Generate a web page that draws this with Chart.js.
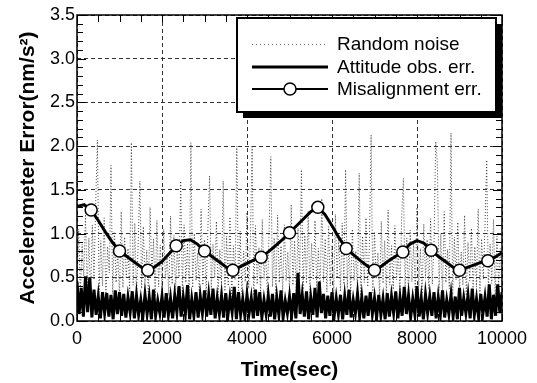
<!DOCTYPE html>
<html>
<head>
<meta charset="utf-8">
<script src="https://cdn.jsdelivr.net/npm/chart.js@4.4.1/dist/chart.umd.min.js"></script>
<style>
  html, body { margin: 0; padding: 0; background: #fff; }
  #wrap { width: 537px; height: 383px; }
</style>
</head>
<body>
<div id="wrap"><canvas id="c" width="537" height="383"></canvas></div>
<script>
// ---- data ----
const seriesNames = ["Random noise", "Attitude obs. err.", "Misalignment err."];
const xTickLabels = [0, 2000, 4000, 6000, 8000, 10000];
const yTickLabels = ["0.0","0.5","1.0","1.5","2.0","2.5","3.0","3.5"];
const xLabel = "Time(sec)";
const yLabel = "Accelerometer Error(nm/s\u00B2)";

// Random noise, sampled every 40 s (0..10000)
const noiseStep = 40;
const noiseValues = [
 0.42,1.05,0.30,0.88,0.51,1.22,0.36,0.95,0.28,1.10,
 0.47,1.35,2.07,0.33,0.92,0.40,1.18,0.29,0.85,0.55,
 1.78,0.31,1.02,0.44,0.79,0.27,1.25,0.38,0.96,0.50,
 0.83,0.34,2.04,0.41,1.12,0.26,0.90,1.60,0.37,1.08,
 0.45,0.81,0.30,1.30,0.52,0.94,0.28,1.15,0.39,0.87,
 0.33,1.05,0.48,0.76,0.29,1.20,0.42,0.98,0.35,0.84,
 0.50,1.60,0.31,1.10,0.44,0.89,0.27,2.04,0.38,1.00,
 0.46,0.78,0.32,1.28,0.41,0.93,0.29,1.07,1.66,0.36,
 0.88,0.49,1.14,0.30,0.82,0.43,1.60,0.34,0.97,0.40,
 1.19,0.28,0.86,0.47,2.00,0.35,1.03,0.31,0.80,0.45,
 1.24,0.37,0.91,2.01,0.29,1.09,0.42,0.84,0.33,1.16,
 0.48,0.77,0.30,1.02,1.88,0.39,0.95,0.27,1.21,0.44,
 0.86,0.32,1.10,0.46,0.79,0.35,1.33,0.41,0.92,0.29,
 1.06,0.50,1.73,0.36,0.98,0.43,1.26,0.31,0.89,0.47,
 1.15,0.38,0.83,0.30,1.40,0.45,0.94,0.33,1.08,0.40,
 0.87,0.28,1.22,0.49,0.96,0.34,1.12,0.42,1.73,0.37,
 0.90,0.31,1.05,0.46,0.80,0.35,1.69,0.29,0.97,0.44,
 1.18,0.39,0.85,2.13,0.32,1.01,0.48,0.78,0.30,1.14,
 0.43,0.92,0.27,1.27,0.41,0.86,0.36,1.09,0.47,0.81,
 0.33,1.20,1.63,0.38,0.95,0.29,1.04,0.45,0.88,0.34,
 1.30,0.40,0.83,0.31,1.11,0.49,0.93,0.36,1.17,0.42,
 0.87,2.05,1.80,0.35,1.00,0.28,1.25,0.44,0.82,0.37,
 2.15,0.30,0.96,0.47,1.13,0.33,0.79,0.41,1.21,0.29,
 0.90,0.46,1.06,0.34,0.85,0.39,1.28,0.31,0.94,0.48,
 1.10,1.84,0.36,0.88,0.43,1.16,0.28,0.97,0.40,0.83,
 0.35
];

// Attitude observation error, sampled every 50 s
const attitudeStep = 50;
const attitudeValues = [
 0.45,0.08,0.38,0.05,0.51,0.10,0.50,0.04,0.36,0.07,
 0.28,0.03,0.33,0.09,0.32,0.05,0.30,0.02,0.35,0.08,
 0.33,0.06,0.31,0.04,0.27,0.10,0.34,0.03,0.29,0.07,
 0.24,0.05,0.30,0.08,0.27,0.02,0.36,0.06,0.23,0.09,
 0.28,0.04,0.32,0.07,0.26,0.03,0.29,0.10,0.40,0.05,
 0.27,0.08,0.41,0.02,0.25,0.06,0.33,0.04,0.28,0.09,
 0.35,0.05,0.30,0.07,0.37,0.03,0.26,0.08,0.29,0.04,
 0.32,0.06,0.27,0.10,0.39,0.02,0.33,0.07,0.25,0.05,
 0.30,0.09,0.26,0.03,0.36,0.06,0.33,0.04,0.24,0.08,
 0.29,0.05,0.31,0.02,0.27,0.07,0.35,0.04,0.23,0.09,
 0.28,0.06,0.32,0.03,0.55,0.08,0.30,0.05,0.34,0.02,
 0.27,0.07,0.38,0.04,0.45,0.09,0.31,0.03,0.29,0.06,
 0.33,0.05,0.26,0.08,0.30,0.02,0.28,0.07,0.36,0.04,
 0.24,0.09,0.31,0.05,0.27,0.03,0.29,0.06,0.33,0.08,
 0.26,0.04,0.30,0.07,0.25,0.02,0.32,0.05,0.28,0.09,
 0.34,0.03,0.27,0.06,0.39,0.08,0.29,0.04,0.25,0.07,
 0.40,0.05,0.26,0.02,0.30,0.09,0.28,0.06,0.33,0.03,
 0.27,0.07,0.35,0.04,0.24,0.08,0.30,0.05,0.28,0.02,
 0.38,0.06,0.26,0.09,0.29,0.03,0.37,0.07,0.25,0.04,
 0.31,0.08,0.27,0.05,0.42,0.02,0.30,0.06,0.42,0.09,
 0.33
];

// Misalignment error, sampled every 10000/60 s; markers on every 4th sample from index 2
const misalignStep = 10000 / 60;
const misalignValues = [
 1.31,1.33,1.27,1.15,1.02,0.90,0.80,0.74,0.68,0.62,
 0.58,0.62,0.68,0.77,0.86,0.92,0.93,0.88,0.80,0.74,
 0.68,0.62,0.58,0.62,0.66,0.70,0.73,0.79,0.86,0.93,
 1.01,1.09,1.17,1.25,1.30,1.22,1.09,0.95,0.83,0.76,
 0.69,0.63,0.58,0.63,0.69,0.74,0.79,0.88,0.92,0.89,
 0.81,0.74,0.68,0.62,0.58,0.61,0.64,0.67,0.69,0.73,
 0.78
];
const markerEvery = 4, markerOffset = 2;

// ---- build ----
const toXY = (vals, step) => vals.map((v, i) => ({ x: i * step, y: v }));
const FONT = "'Liberation Sans', Arial, Helvetica, sans-serif";
Chart.defaults.font.family = FONT;
Chart.defaults.color = '#000';

const framePlugin = {
  id: 'frameTicksLegend',
  afterDraw(chart) {
    const { ctx, chartArea: a, scales: { x, y } } = chart;
    ctx.save();
    ctx.strokeStyle = '#000';
    ctx.lineWidth = 1;
    ctx.beginPath();
    for (let v = 0; v <= 10000; v += 500) {
      const px = Math.round(x.getPixelForValue(v)) + 0.5;
      ctx.moveTo(px, a.top); ctx.lineTo(px, a.top + 7);
      ctx.moveTo(px, a.bottom); ctx.lineTo(px, a.bottom - 7);
    }
    for (let k = 0; k <= 35; k++) {
      const py = Math.round(y.getPixelForValue(k / 10)) + 0.5;
      const len = (k % 5 === 0) ? 9 : 6;
      ctx.moveTo(a.left, py); ctx.lineTo(a.left + len, py);
      ctx.moveTo(a.right, py); ctx.lineTo(a.right - len, py);
    }
    ctx.stroke();
    ctx.lineWidth = 1.5;
    ctx.strokeRect(a.left, a.top, a.right - a.left, a.bottom - a.top);

    // legend box with drop shadow
    const bx = 237, by = 18, bw = 259, bh = 94, sh = 6;
    ctx.fillStyle = '#000';
    ctx.fillRect(bx + sh, by + sh, bw, bh);
    ctx.fillStyle = '#fff';
    ctx.fillRect(bx, by, bw, bh);
    ctx.lineWidth = 2;
    ctx.strokeStyle = '#000';
    ctx.strokeRect(bx, by, bw, bh);

    const rows = [44, 67, 89];
    const sx0 = 252, sx1 = 328, tx = 337;
    // random noise sample
    ctx.strokeStyle = '#666';
    ctx.lineWidth = 1;
    ctx.setLineDash([1, 3]);
    ctx.beginPath(); ctx.moveTo(sx0, rows[0] + 0.5); ctx.lineTo(sx1, rows[0] + 0.5); ctx.stroke();
    ctx.setLineDash([]);
    // attitude sample
    ctx.strokeStyle = '#000';
    ctx.lineWidth = 3;
    ctx.beginPath(); ctx.moveTo(sx0, rows[1]); ctx.lineTo(sx1, rows[1]); ctx.stroke();
    // misalignment sample
    ctx.lineWidth = 2;
    ctx.beginPath(); ctx.moveTo(sx0, rows[2]); ctx.lineTo(sx1, rows[2]); ctx.stroke();
    ctx.beginPath(); ctx.arc((sx0 + sx1) / 2, rows[2], 6, 0, Math.PI * 2);
    ctx.fillStyle = '#fff'; ctx.fill();
    ctx.lineWidth = 1.5; ctx.stroke();

    ctx.fillStyle = '#000';
    ctx.font = '19px ' + FONT;
    ctx.textBaseline = 'middle';
    ctx.textAlign = 'left';
    seriesNames.forEach((n, i) => ctx.fillText(n, tx, rows[i] + 1));
    ctx.restore();
  }
};

new Chart(document.getElementById('c'), {
  type: 'line',
  data: {
    datasets: [
      {
        label: seriesNames[2],
        data: toXY(misalignValues, misalignStep),
        borderColor: '#000',
        borderWidth: 3,
        pointRadius: (c) => (c.dataIndex % markerEvery === markerOffset ? 6 : 0),
        pointBackgroundColor: '#fff',
        pointBorderColor: '#000',
        pointBorderWidth: 1.5,
        tension: 0,
        order: 0
      },
      {
        label: seriesNames[1],
        data: toXY(attitudeValues, attitudeStep),
        borderColor: '#000',
        borderWidth: 3,
        pointRadius: 0,
        tension: 0,
        order: 1
      },
      {
        label: seriesNames[0],
        data: toXY(noiseValues, noiseStep),
        borderColor: 'rgba(40,40,40,0.85)',
        borderWidth: 1,
        borderDash: [1, 2],
        pointRadius: 0,
        tension: 0,
        order: 2
      }
    ]
  },
  options: {
    responsive: false,
    animation: false,
    events: [],
    layout: { padding: { left: 0, top: 15, right: 35, bottom: 0 } },
    plugins: { legend: { display: false }, tooltip: { enabled: false } },
    scales: {
      x: {
        type: 'linear',
        min: 0, max: 10000,
        afterFit: (s) => { s.height = 62; },
        afterBuildTicks: (s) => { s.ticks = xTickLabels.map(v => ({ value: v })); },
        ticks: { font: { size: 18 }, padding: 7, maxRotation: 0, callback: (v) => String(v), color: '#000' },
        grid: { color: '#333', lineWidth: 1, drawTicks: false },
        border: { display: false, dash: [4, 3] },
        title: { display: true, text: xLabel, font: { size: 21, weight: 'bold' }, padding: { top: 0, bottom: 0 }, color: '#000' }
      },
      y: {
        type: 'linear',
        min: 0, max: 3.5,
        afterFit: (s) => { s.width = 77; },
        afterBuildTicks: (s) => { s.ticks = yTickLabels.map(t => ({ value: parseFloat(t) })); },
        ticks: { font: { size: 18 }, padding: 2, callback: (v) => yTickLabels.find(t => parseFloat(t) === v) || v.toFixed(1), color: '#000' },
        grid: { color: '#333', lineWidth: 1, drawTicks: false },
        border: { display: false, dash: [4, 3] },
        title: { display: true, text: yLabel, font: { size: 21, weight: 'bold' }, padding: { top: 16, bottom: 0 }, color: '#000' }
      }
    }
  },
  plugins: [framePlugin]
});
</script>
</body>
</html>
